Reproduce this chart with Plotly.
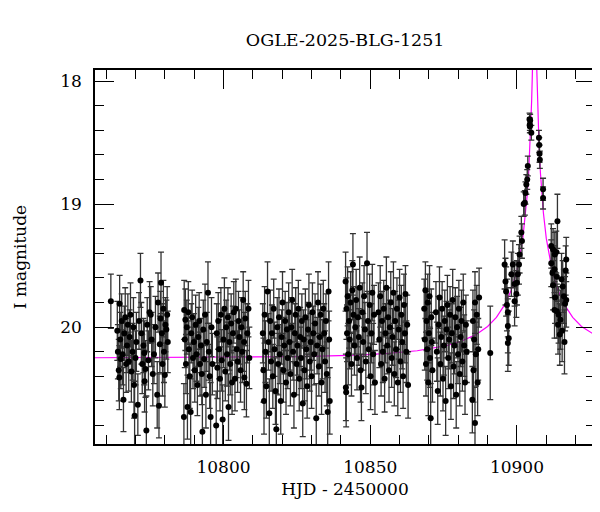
import plotly.graph_objects as go

# ---- photometry (HJD-2450000, I mag, error) ----
seg1_t = [10761.6,10763.8,10764.0,10764.3,10764.5,10764.6,10764.8,10765.0,10765.3,10765.6,10765.9,10766.2,10766.5,10766.8,10767.1,10767.4,10767.7,10768.0,10768.3,10768.6,10769.0,10769.3,10769.5,10769.7,10770.0,10770.3,10770.8,10771.2,10771.7,10772.0,10772.3,10772.7,10773.0,10773.1,10773.4,10773.7,10774.0,10774.4,10774.8,10775.2,10775.5,10775.9,10776.3,10776.8,10777.4,10777.7,10778.0,10778.3,10778.5,10778.7,10779.0,10779.2,10779.5,10779.7,10780.0,10780.2,10780.5,10780.8,10781.0]
seg1_m = [19.79,20.03,20.20,20.35,20.41,19.81,20.10,20.26,19.95,20.22,20.59,20.05,19.92,20.30,20.15,19.98,20.28,20.08,19.90,20.36,20.20,20.00,20.47,20.72,20.25,20.12,20.63,19.95,19.62,20.05,20.30,20.15,20.21,20.44,20.34,20.84,19.98,20.27,19.88,19.90,20.10,20.38,20.22,20.00,20.55,19.80,20.64,20.14,19.93,19.64,20.05,20.30,19.85,20.20,20.39,19.98,20.02,19.90,20.12]
seg1_e = [0.22,0.24,0.22,0.25,0.26,0.23,0.22,0.24,0.22,0.25,0.26,0.22,0.24,0.23,0.22,0.25,0.24,0.22,0.26,0.25,0.23,0.24,0.27,0.28,0.22,0.24,0.25,0.23,0.22,0.25,0.24,0.22,0.26,0.25,0.23,0.28,0.22,0.24,0.25,0.23,0.22,0.26,0.24,0.25,0.27,0.24,0.26,0.23,0.22,0.25,0.24,0.26,0.23,0.25,0.26,0.22,0.24,0.23,0.25]

seg2_t = [10786.5,10786.6,10786.8,10787.0,10787.2,10787.5,10787.7,10788.0,10788.2,10788.5,10788.8,10789.0,10789.3,10789.6,10789.9,10790.2,10790.5,10790.8,10791.1,10791.4,10791.7,10792.0,10792.3,10792.6,10792.8,10793.1,10793.4,10793.7,10794.0,10794.3,10794.7,10795.0,10795.3,10795.6,10795.9,10796.2,
          10797.5,10797.7,10797.9,10798.2,10798.5,10798.8,10799.1,10799.4,10799.7,10800.0,10800.3,10800.6,10800.9,10801.2,10801.5,10801.7,10802.0,10802.3,10802.6,10802.9,10803.2,10803.5,10803.9,10804.2,10804.5,10804.8,10805.1,10805.4,10805.8,10806.1,10806.4,10806.7,10807.0,10807.1,10807.4,10807.8,10808.1,10808.5,10808.8]
seg2_m = [20.73,19.86,20.10,19.94,20.30,20.00,20.65,19.88,20.18,20.40,20.69,20.05,19.92,20.25,20.12,20.35,19.98,20.22,20.47,20.08,19.95,20.30,20.15,20.38,20.85,20.02,20.26,19.90,20.55,20.12,19.72,20.20,20.40,20.73,20.00,20.30,
          20.80,20.05,20.33,19.95,20.18,20.42,19.90,20.27,20.75,20.10,19.85,20.36,20.00,20.22,19.92,20.65,20.12,20.30,19.97,20.45,20.05,19.88,20.42,19.85,20.18,20.28,19.95,20.08,20.35,20.00,20.20,19.78,20.12,20.41,19.93,20.46,20.05,19.85,20.25]
seg2_e = [0.27,0.24,0.23,0.25,0.24,0.22,0.26,0.25,0.23,0.26,0.27,0.24,0.22,0.25,0.23,0.26,0.24,0.22,0.25,0.24,0.23,0.26,0.22,0.25,0.30,0.24,0.23,0.25,0.27,0.24,0.25,0.23,0.26,0.28,0.24,0.25,
          0.28,0.24,0.25,0.23,0.24,0.26,0.22,0.25,0.28,0.23,0.25,0.24,0.22,0.26,0.24,0.27,0.23,0.25,0.24,0.26,0.22,0.25,0.26,0.24,0.23,0.25,0.24,0.22,0.26,0.24,0.25,0.23,0.24,0.26,0.22,0.27,0.24,0.23,0.25]

seg3_t = [10813.4,10813.6,10813.8,10814.0,10814.3,10814.6,10815.0,10815.3,10815.6,10815.9,10816.2,10816.5,10816.8,10817.1,10817.4,10817.7,10818.0,10818.3,10818.6,10818.9,10819.2,10819.5,10819.8,10820.1,10820.4,10820.7,10821.0,10821.3,10821.6,10821.9,10822.2,10822.5,10822.8,10823.1,10823.4,10823.7,10824.0,10824.3,10824.6,10824.9,10825.2,10825.5,10825.8,10826.1,10826.4,10826.7,10827.0,10827.3,10827.6,10827.9,10828.2,10828.5,10828.8,10829.1,10829.4,10829.7,10830.0,10830.3,10830.6,10830.9,10831.2,10831.6,10831.9,10832.2,10832.5,10832.8,10833.1,10833.4,10833.7,10834.0,10834.3,10834.6,10834.9,10835.2,10835.5,10835.8,10836.0,10836.2]
seg3_m = [20.05,20.35,20.60,19.90,20.20,20.48,19.71,20.12,20.70,19.95,20.28,20.05,20.40,19.85,20.18,20.52,20.83,20.00,20.30,19.92,20.22,20.60,20.08,19.80,20.35,20.15,19.95,20.45,20.02,20.25,19.88,20.12,20.38,20.00,19.78,20.20,20.55,20.05,19.90,20.30,20.15,19.85,20.42,20.08,20.25,19.95,20.62,20.10,20.35,19.92,20.18,20.48,20.02,19.82,20.28,20.12,20.40,19.88,20.05,20.22,19.97,20.74,20.15,19.80,20.32,20.08,19.90,20.45,20.18,19.85,20.05,20.28,19.95,20.38,20.69,19.71,20.10,20.60]
seg3_e = [0.24,0.26,0.27,0.23,0.25,0.26,0.24,0.23,0.28,0.25,0.24,0.23,0.26,0.24,0.22,0.27,0.29,0.24,0.25,0.23,0.24,0.27,0.22,0.25,0.26,0.23,0.24,0.26,0.22,0.25,0.24,0.23,0.26,0.24,0.25,0.23,0.27,0.24,0.22,0.25,0.24,0.23,0.26,0.24,0.25,0.22,0.27,0.24,0.25,0.23,0.24,0.26,0.22,0.25,0.24,0.23,0.26,0.24,0.22,0.25,0.24,0.28,0.23,0.25,0.24,0.22,0.25,0.26,0.24,0.23,0.24,0.25,0.22,0.26,0.28,0.24,0.23,0.27]

seg4_t = [10841.6,10841.7,10841.8,10841.9,10842.1,10842.3,10842.5,10842.8,10843.0,10843.3,10843.6,10843.9,10844.1,10844.3,10844.6,10844.9,10845.2,10845.5,10845.8,10846.1,10846.4,10846.7,10847.0,10847.3,10847.6,10847.9,10848.2,10848.5,10848.9,10849.2,10849.5,10849.8,10850.1,10850.4,10850.7,10851.0,10851.3,10851.6,
          10852.8,10853.1,10853.4,10853.7,10854.0,10854.3,10854.6,10854.9,10855.2,10855.5,10855.8,10856.1,10856.4,10856.7,10857.0,10857.3,10857.6,10857.9,10858.2,10858.5,10858.8,10859.1,10859.4,10859.7,10860.0,10860.3,10860.6,10860.9,10861.2,10861.5,10861.8,10862.0,10862.3,10862.6,10862.9]
seg4_m = [19.63,20.49,20.53,19.85,20.05,19.75,20.22,19.95,20.10,19.80,20.30,19.70,19.49,19.90,20.15,20.00,19.78,20.25,19.92,20.08,19.68,20.35,20.49,19.88,20.12,19.75,20.02,20.28,19.48,19.95,20.18,19.82,20.40,20.05,19.72,20.22,19.90,20.45,
          19.88,20.10,19.75,20.30,19.95,20.20,19.85,20.42,20.05,19.68,20.15,19.92,20.35,20.00,19.80,20.25,20.08,19.72,20.38,19.95,20.18,19.85,20.45,20.02,19.76,20.28,19.90,20.12,20.40,19.82,20.05,19.73,20.20,19.98,20.47]
seg4_e = [0.24,0.27,0.28,0.25,0.23,0.24,0.25,0.22,0.24,0.25,0.26,0.24,0.25,0.23,0.24,0.22,0.25,0.26,0.24,0.23,0.25,0.26,0.27,0.24,0.23,0.25,0.22,0.26,0.25,0.24,0.23,0.25,0.27,0.24,0.23,0.25,0.24,0.26,
          0.24,0.23,0.25,0.26,0.24,0.25,0.23,0.27,0.24,0.25,0.23,0.24,0.26,0.22,0.25,0.24,0.23,0.25,0.26,0.24,0.23,0.25,0.27,0.24,0.23,0.25,0.24,0.22,0.26,0.25,0.24,0.23,0.25,0.24,0.27]

seg5_t = [10868.4,10868.6,10868.8,10869.0,10869.2,10869.4,10869.6,10869.8,10870.0,10870.2,10870.4,10870.6,10870.8,10871.0,10871.2,
          10872.4,10872.7,10873.0,10873.3,10873.6,10873.9,10874.2,10874.5,10874.8,10875.1,10875.4,10875.7,10876.0,10876.3,10876.6,10876.9,10877.2,10877.5,10877.8,10878.1,10878.4,10878.7,10879.0,10879.3,10879.6,10879.9,10880.2,10880.5,10880.8,10881.1,10881.4,10881.7,10882.0,10882.3,10882.6,10882.9,
          10884.8,10885.0,10885.2,10885.4,10885.7,10885.7,10886.0,10886.3,10886.6,10886.8,10887.1,10890.9]
seg5_m = [19.85,20.10,19.70,20.30,19.95,20.18,19.80,20.45,20.05,19.75,20.25,20.74,19.92,20.12,20.35,
          19.88,20.20,20.52,19.98,19.76,20.30,20.08,19.85,20.42,20.15,19.95,20.60,20.02,19.82,20.25,20.10,19.90,20.48,20.05,19.78,20.32,20.15,19.92,20.55,20.00,20.22,19.85,20.38,20.08,19.95,20.28,19.80,20.15,20.45,19.98,20.20,
          20.59,19.95,20.35,20.10,19.80,20.78,20.22,19.90,20.45,20.18,19.76,20.21]
seg5_e = [0.24,0.25,0.23,0.26,0.24,0.25,0.23,0.27,0.24,0.25,0.24,0.28,0.23,0.24,0.26,
          0.25,0.24,0.27,0.23,0.25,0.26,0.24,0.22,0.26,0.24,0.25,0.28,0.23,0.24,0.25,0.24,0.23,0.27,0.24,0.25,0.26,0.23,0.24,0.27,0.25,0.24,0.23,0.26,0.24,0.25,0.24,0.23,0.25,0.26,0.24,0.25,
          0.27,0.25,0.26,0.24,0.25,0.29,0.26,0.24,0.27,0.25,0.24,0.38]

seg6_t = [10895.8,10896.1,10896.3,10896.6,10896.9,10896.9,10896.9,10897.2,10898.1,10898.6,10899.2,10899.2,10899.8,10900.0,10900.3,10900.7,10900.9,10901.5,10901.7,10902.3,10902.7,10902.9,10903.2,10903.5,10903.7,10904.3,10904.4,10904.9,10904.5,10904.4,
          10907.5,10907.6,10907.7,10907.8,10908.9,10908.9,
          10913.8,10911.7,10912.3,10912.9,10913.4,10911.7,10912.1,10912.8,10913.6,10916.8,10916.6,10915.2,10915.6,10916.0,10912.3,10912.8,10913.6,10914.2,10914.8,10914.0,10915.4,10914.6,10916.2,10916.4,10916.8,10913.0]
seg6_m = [19.49,19.63,19.71,19.82,19.88,19.99,20.13,20.09,19.57,19.49,19.65,19.79,19.73,19.64,19.57,19.49,19.41,19.23,19.30,19.00,18.99,18.91,18.84,18.80,18.69,18.31,18.35,18.42,18.32,18.37,
          18.46,18.52,18.59,18.64,18.88,18.95,
          19.14,19.34,19.37,19.41,19.39,19.48,19.56,19.53,19.59,19.45,19.54,19.61,19.67,19.75,19.66,19.86,19.87,19.90,19.94,19.98,20.03,20.06,20.12,19.81,19.78,19.76]
seg6_e = [0.20,0.19,0.20,0.21,0.20,0.22,0.23,0.22,0.18,0.19,0.18,0.20,0.19,0.18,0.17,0.16,0.15,0.13,0.14,0.10,0.10,0.09,0.08,0.08,0.08,0.05,0.05,0.06,0.05,0.05,
          0.06,0.06,0.07,0.07,0.09,0.09,
          0.22,0.18,0.17,0.18,0.17,0.19,0.20,0.19,0.20,0.18,0.20,0.21,0.21,0.22,0.20,0.23,0.22,0.23,0.24,0.24,0.25,0.25,0.26,0.22,0.22,0.21]

# ---- model light curve points ----
model_t = [10756,10786,10806,10826,10846,10856,10866,10876,10881,10886,10890,10893,10896,10898,10900,10901,10902,10903,10903.5,10904,10904.5,10904.8,10905.0,10905.2,10905.4,10906.0,
           10906.6,10906.8,10907.0,10907.2,10907.5,10908.0,10908.5,10909.0,10910.0,10911.0,10912.0,10914.0,10916.0,10919.0,10922.0,10927.0]
model_m = [20.249,20.247,20.245,20.239,20.227,20.214,20.192,20.150,20.115,20.061,19.995,19.921,19.811,19.702,19.541,19.427,19.279,19.068,18.926,18.745,18.505,18.317,18.166,17.987,17.775,17.18,
           17.775,17.987,18.166,18.317,18.505,18.745,18.926,19.068,19.279,19.427,19.541,19.702,19.811,19.921,19.995,20.070]

hjd = seg1_t + seg2_t + seg3_t + seg4_t + seg5_t + seg6_t
mag = seg1_m + seg2_m + seg3_m + seg4_m + seg5_m + seg6_m
err = seg1_e + seg2_e + seg3_e + seg4_e + seg5_e + seg6_e

FONT = "DejaVu Serif"

fig = go.Figure()
fig.add_trace(go.Scatter(
    x=model_t, y=model_m, mode="lines",
    line=dict(color="#ff00ff", width=1.2), hoverinfo="skip"))
fig.add_trace(go.Scatter(
    x=hjd, y=mag, mode="markers",
    marker=dict(color="black", size=6),
    error_y=dict(type="data", array=err, visible=True, color="#333333", thickness=1.3, width=3)))

axis_common = dict(
    showline=True, linecolor="black", linewidth=1.5, mirror="allticks",
    ticks="inside", ticklen=19, tickwidth=1, tickcolor="black",
    showgrid=False, zeroline=False, automargin=False,
    tickfont=dict(family=FONT, size=17, color="black"),
)

fig.update_xaxes(
    range=[10756.2, 10926.6], tick0=10800, dtick=50, tickformat="d",
    minor=dict(ticks="inside", ticklen=9, dtick=10, tickcolor="black", tickwidth=1, showgrid=False),
    title=dict(text="HJD - 2450000", font=dict(family=FONT, size=17, color="black"), standoff=7),
    ticklabelstandoff=7, **axis_common)
fig.update_yaxes(
    range=[20.95, 17.91], tick0=18, dtick=1, tickformat="d",
    minor=dict(ticks="inside", ticklen=9, dtick=0.2, tickcolor="black", tickwidth=1, showgrid=False),
    title=dict(text="I magnitude", font=dict(family=FONT, size=17, color="black"), standoff=29),
    ticklabelstandoff=8, **axis_common)

fig.update_layout(
    width=600, height=512,
    margin=dict(l=87, r=13, t=62, b=76),
    paper_bgcolor="white", plot_bgcolor="white",
    showlegend=False,
    title=dict(text="OGLE-2025-BLG-1251", x=0.562, xanchor="center", y=0.937, yanchor="middle",
               font=dict(family=FONT, size=17.5, color="black")),
)

fig.write_html("out.html")
